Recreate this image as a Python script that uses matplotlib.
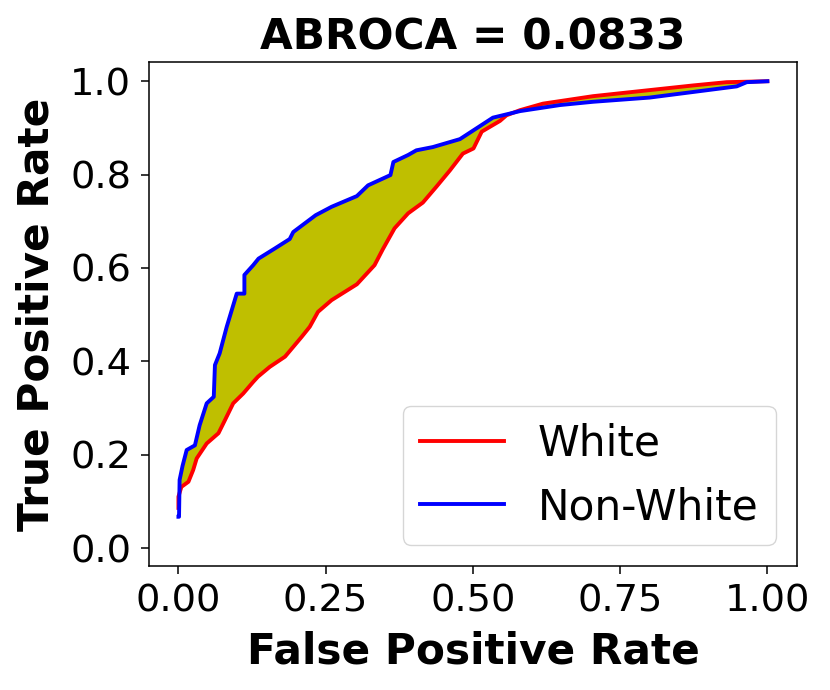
#ABROCA plot: ROC curves of the two groups and the area between them
import numpy as np
import matplotlib.pyplot as plt

# ROC points, group "White" (red)
fpr_white = [0.0, 0.0, 0.005, 0.017, 0.025, 0.031, 0.048, 0.068, 0.079, 0.093,
             0.110, 0.127, 0.135, 0.155, 0.181, 0.209, 0.223, 0.237, 0.260, 0.303,
             0.333, 0.347, 0.367, 0.390, 0.415, 0.438, 0.461, 0.483, 0.501, 0.515,
             0.546, 0.557, 0.580, 0.619, 0.704, 0.800, 0.874, 0.931, 1.0]
tpr_white = [0.086, 0.110, 0.131, 0.142, 0.167, 0.192, 0.224, 0.246, 0.274, 0.310,
             0.331, 0.356, 0.367, 0.388, 0.410, 0.452, 0.474, 0.506, 0.531, 0.565,
             0.606, 0.640, 0.685, 0.717, 0.740, 0.774, 0.809, 0.845, 0.856, 0.892,
             0.915, 0.927, 0.938, 0.952, 0.968, 0.981, 0.991, 0.998, 1.0]

# ROC points, group "Non-White" (blue)
fpr_nonwhite = [0.0, 0.001, 0.002, 0.007, 0.014, 0.028, 0.036, 0.048, 0.060, 0.062,
                0.070, 0.082, 0.099, 0.112, 0.112, 0.127, 0.136, 0.164, 0.189, 0.195,
                0.233, 0.260, 0.303, 0.322, 0.360, 0.365, 0.390, 0.404, 0.432, 0.478,
                0.506, 0.534, 0.580, 0.648, 0.704, 0.800, 0.874, 0.948, 0.965, 1.0]
tpr_nonwhite = [0.067, 0.067, 0.146, 0.176, 0.210, 0.220, 0.263, 0.310, 0.324, 0.392,
                0.417, 0.474, 0.545, 0.545, 0.585, 0.606, 0.620, 0.642, 0.662, 0.677,
                0.713, 0.731, 0.754, 0.777, 0.799, 0.827, 0.842, 0.852, 0.859, 0.876,
                0.899, 0.922, 0.936, 0.949, 0.956, 0.965, 0.977, 0.989, 0.998, 1.0]

abroca = 0.0833
fs_ticks = 27.6
fs = 30.4

fig = plt.figure(figsize=(8.3, 6.9), dpi=100)
ax = fig.add_axes([0.1795, 0.1797, 0.7805, 0.7303])

# zona entre curvas
poly_x = np.concatenate([fpr_nonwhite, fpr_white[::-1]])
poly_y = np.concatenate([tpr_nonwhite, tpr_white[::-1]])
ax.fill(poly_x, poly_y, color="y", linewidth=0)

ax.plot(fpr_white, tpr_white, color="red", lw=2.8, label="White")
ax.plot(fpr_nonwhite, tpr_nonwhite, color="blue", lw=2.8, label="Non-White")

ax.set_xlim(-0.05, 1.05)
ax.set_ylim(-0.0385, 1.041)
ax.set_xticks([0.0, 0.25, 0.5, 0.75, 1.0])
ax.set_yticks([0.0, 0.2, 0.4, 0.6, 0.8, 1.0])
ax.tick_params(labelsize=fs_ticks, length=5.8, width=1.1, pad=7)
for s in ax.spines.values():
    s.set_linewidth(1.1)

ax.set_title("ABROCA = {}".format(abroca), fontsize=fs, fontweight="bold", pad=9)
ax.set_xlabel("False Positive Rate", fontsize=fs, fontweight="bold", labelpad=8)
ax.set_ylabel("True Positive Rate", fontsize=fs, fontweight="bold", labelpad=9)
ax.legend(loc="lower right", fontsize=fs)

fig.savefig("out.png", dpi=100)
